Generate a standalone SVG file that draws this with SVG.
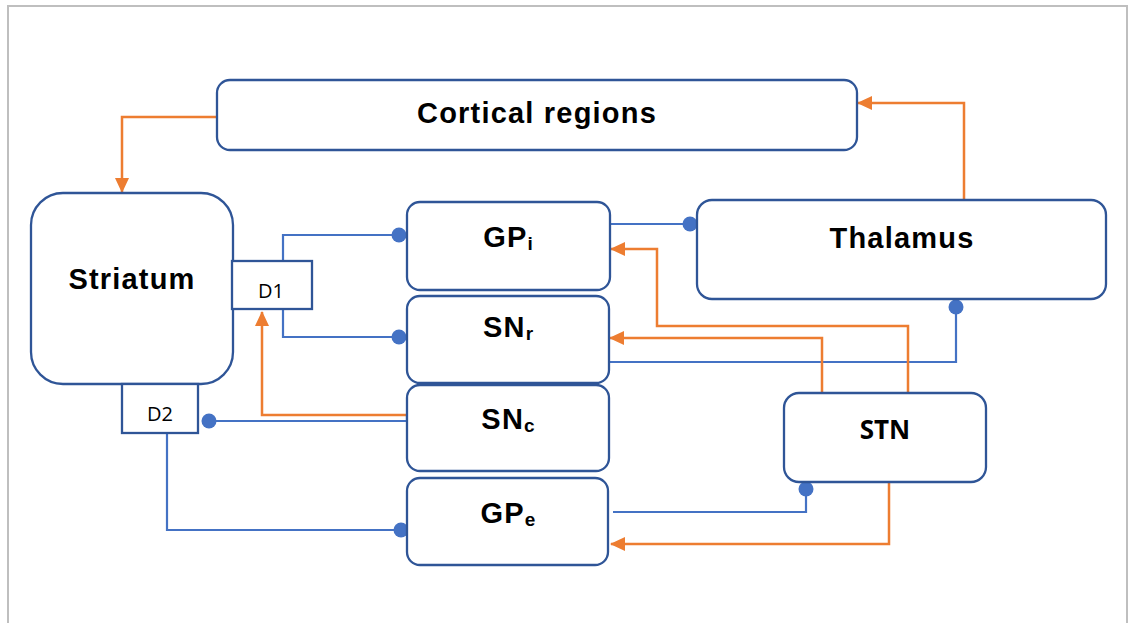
<svg xmlns="http://www.w3.org/2000/svg" width="1129" height="623" viewBox="0 0 1129 623">
<style>
.node{fill:#fff;stroke:#2F5597;stroke-width:2.3}
.title{font-family:"Liberation Sans",Arial,sans-serif;font-weight:bold;font-size:29px;letter-spacing:1.2px;fill:#000;text-anchor:middle}
.sub{font-size:19px;letter-spacing:0}
.small{font-family:"Open Sans","Liberation Sans",sans-serif;font-size:20px;fill:#000;text-anchor:middle}
.stn{font-family:"Open Sans","Liberation Sans",sans-serif;font-weight:bold;font-size:26px;fill:#000;text-anchor:middle}
.blue{fill:none;stroke:#4472C4;stroke-width:2.2}
.orange{fill:none;stroke:#ED7D31;stroke-width:2.5}
.dot{fill:#4472C4}
</style>
<defs>
<marker id="arr" markerUnits="userSpaceOnUse" markerWidth="16" markerHeight="14" refX="14" refY="7" orient="auto">
<path d="M0,0 L15,7 L0,14 Z" fill="#ED7D31"/>
</marker>
</defs>
<rect x="0" y="0" width="1129" height="623" fill="#fff"/>
<rect x="8" y="6" width="1119" height="640" fill="none" stroke="#BFBFBF" stroke-width="2"/>

<g id="connectors">
<path class="orange" d="M217,117 H122 V192" marker-end="url(#arr)"/>
<path class="orange" d="M964,200 V103 H858" marker-end="url(#arr)"/>
<path class="blue" d="M283,261 V235 H399"/>
<circle class="dot" cx="399" cy="235" r="7.5"/>
<path class="blue" d="M283,309 V337 H399"/>
<circle class="dot" cx="399" cy="337" r="7.5"/>
<path class="orange" d="M408,415 H262 V312" marker-end="url(#arr)"/>
<path class="blue" d="M407,414 V421 H209"/>
<circle class="dot" cx="209" cy="421" r="7.5"/>
<path class="blue" d="M167,433 V530 H401"/>
<circle class="dot" cx="401" cy="530" r="7.5"/>
<path class="blue" d="M609,224 H690"/>
<circle class="dot" cx="690" cy="224" r="7.5"/>
<path class="blue" d="M956,307 V362 H609"/>
<circle class="dot" cx="956" cy="307" r="7.5"/>
<path class="orange" d="M908,393 V326 H657 V249 H611" marker-end="url(#arr)"/>
<path class="orange" d="M822,393 V338 H610" marker-end="url(#arr)"/>
<path class="blue" d="M613,512 H806 V489"/>
<circle class="dot" cx="806" cy="489" r="7.5"/>
<path class="orange" d="M889,482 V544 H611" marker-end="url(#arr)"/>
</g>

<g id="cortical">
<rect class="node" x="217" y="80" width="640" height="70" rx="13"/>
<text class="title" x="537" y="123">Cortical regions</text>
</g>
<g id="striatum">
<rect class="node" x="31" y="193" width="202" height="191" rx="32"/>
<text class="title" x="132" y="289">Striatum</text>
</g>
<g id="d1">
<rect class="node" x="232" y="261" width="80" height="48"/>
<text class="small" x="271" y="298">D1</text>
</g>
<g id="d2">
<rect class="node" x="122" y="384" width="76" height="49"/>
<text class="small" x="160" y="421">D2</text>
</g>
<g id="gpi">
<rect class="node" x="407" y="202" width="203" height="88" rx="13"/>
<text class="title" x="508" y="247">GP<tspan class="sub" dy="3">i</tspan></text>
</g>
<g id="snr">
<rect class="node" x="407" y="296" width="202" height="87" rx="13"/>
<text class="title" x="508" y="337">SN<tspan class="sub" dy="3">r</tspan></text>
</g>
<g id="snc">
<rect class="node" x="407" y="385" width="202" height="86" rx="13"/>
<text class="title" x="508" y="429">SN<tspan class="sub" dy="3">c</tspan></text>
</g>
<g id="gpe">
<rect class="node" x="407" y="478" width="201" height="87" rx="13"/>
<text class="title" x="508" y="523">GP<tspan class="sub" dy="3">e</tspan></text>
</g>
<g id="thalamus">
<rect class="node" x="697" y="200" width="409" height="99" rx="15"/>
<text class="title" x="902" y="248">Thalamus</text>
</g>
<g id="stn">
<rect class="node" x="784" y="393" width="202" height="89" rx="15"/>
<text class="stn" x="885" y="439">STN</text>
</g>
</svg>
